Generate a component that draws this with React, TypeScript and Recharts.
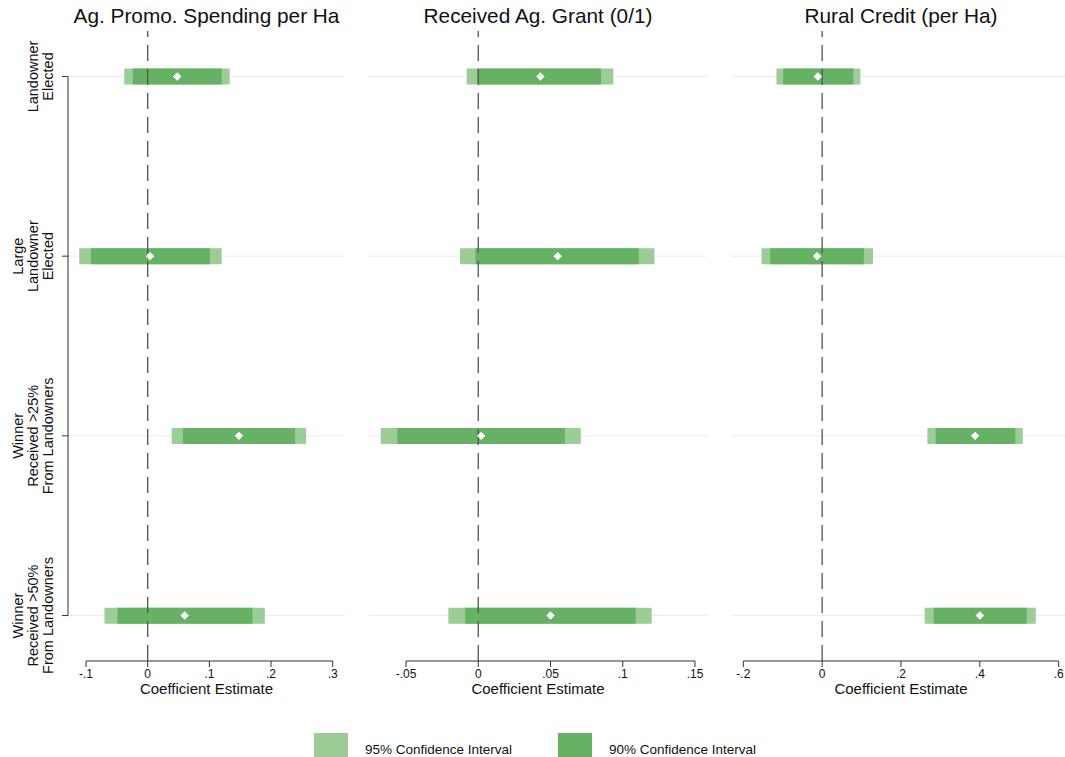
import React from "react";
import {
  ComposedChart,
  Bar,
  Line,
  XAxis,
  YAxis,
  CartesianGrid,
  ReferenceLine,
  Label,
} from "recharts";

// rows, top to bottom
const rowLabels = [
  ["Landowner", "Elected"],
  ["Large", "Landowner", "Elected"],
  ["Winner", "Received >25%", "From Landowners"],
  ["Winner", "Received >50%", "From Landowners"],
];
const rowPos = [1, 2, 3, 4];

// Ag. Promo. Spending per Ha
const promoEst = [0.048, 0.004, 0.148, 0.06];
const promoLo90 = [-0.024, -0.092, 0.057, -0.049];
const promoHi90 = [0.12, 0.101, 0.239, 0.17];
const promoLo95 = [-0.038, -0.111, 0.039, -0.07];
const promoHi95 = [0.133, 0.12, 0.257, 0.19];

// Received Ag. Grant (0/1)
const grantEst = [0.043, 0.055, 0.002, 0.05];
const grantLo90 = [-0.0005, -0.002, -0.056, -0.009];
const grantHi90 = [0.085, 0.111, 0.06, 0.109];
const grantLo95 = [-0.008, -0.0126, -0.0675, -0.0207];
const grantHi95 = [0.0935, 0.122, 0.071, 0.12];

// Rural Credit (per Ha)
const creditEst = [-0.011, -0.013, 0.388, 0.4];
const creditLo90 = [-0.099, -0.132, 0.288, 0.283];
const creditHi90 = [0.079, 0.106, 0.49, 0.519];
const creditLo95 = [-0.116, -0.154, 0.267, 0.26];
const creditHi95 = [0.097, 0.129, 0.509, 0.542];

const promoTicks = [-0.1, 0, 0.1, 0.2, 0.3];
const grantTicks = [-0.05, 0, 0.05, 0.1, 0.15];
const creditTicks = [-0.2, 0, 0.2, 0.4, 0.6];

const C95 = "#9ccd97";
const C90 = "#66b265";
const FONT = '"Liberation Sans", Arial, sans-serif';
const CHART_H = 720;
const Y_DOMAIN: [number, number] = [0.747, 4.253];

const fmt = (v: number) => (v === 0 ? "0" : String(v).replace("0.", "."));

const RowTick = (props: any) => {
  const { y, payload } = props;
  const lines = rowLabels[payload.value - 1] || [];
  return (
    <g transform={`translate(53, ${y})`}>
      <text transform="rotate(-90)" textAnchor="middle" fontSize={14.5} fill="#111" fontFamily={FONT}>
        {lines.map((l, i) => (
          <tspan key={i} x={0} y={-(lines.length - 1 - i) * 15}>
            {l}
          </tspan>
        ))}
      </text>
    </g>
  );
};

const Diamond = (props: any) => {
  const { cx, cy, index } = props;
  if (cx == null || cy == null) return <g key={index} />;
  const r = 4.2;
  return (
    <path
      key={index}
      d={`M${cx},${cy - r}L${cx + r},${cy}L${cx},${cy + r}L${cx - r},${cy}Z`}
      fill="#fff"
    />
  );
};

type PanelProps = {
  title: string;
  est: number[];
  lo90: number[];
  hi90: number[];
  lo95: number[];
  hi95: number[];
  domain: [number, number];
  ticks: number[];
  left: number;
  width: number;
  mLeft: number;
  mRight: number;
  showY?: boolean;
};

function Panel(p: PanelProps) {
  const data = rowPos.map((pos, i) => ({
    pos,
    est: p.est[i],
    ci95: [p.lo95[i], p.hi95[i]],
    ci90: [p.lo90[i], p.hi90[i]],
  }));
  const yAxisW = p.showY ? 68 : 0;
  const plotLeft = p.left + p.mLeft + yAxisW;
  const plotW = p.width - p.mLeft - p.mRight - yAxisW;
  const tLo = p.ticks[0];
  const tHi = p.ticks[p.ticks.length - 1];
  return (
    <>
      <div
        style={{
          position: "absolute",
          left: plotLeft,
          top: 4,
          width: plotW,
          textAlign: "center",
          fontSize: 20.8,
          fontFamily: FONT,
          color: "#111",
          whiteSpace: "nowrap",
        }}
      >
        {p.title}
      </div>
      <div style={{ position: "absolute", left: p.left, top: 0 }}>
        <ComposedChart
          layout="vertical"
          width={p.width}
          height={CHART_H}
          data={data}
          margin={{ top: 31, right: p.mRight, bottom: 0, left: p.mLeft }}
          barGap={-16}
          barSize={16}
          style={{ fontFamily: FONT }}
        >
          <CartesianGrid vertical={false} horizontalValues={rowPos} stroke="#ebebeb" />
          <XAxis
            type="number"
            domain={p.domain}
            ticks={p.ticks}
            interval={0}
            allowDataOverflow
            axisLine={false}
            tickLine={{ stroke: "#333" }}
            tickSize={6}
            tickMargin={2}
            tick={{ fill: "#111", fontSize: 12 }}
            tickFormatter={fmt}
            height={59}
          >
            <Label
              value="Coefficient Estimate"
              position="insideBottom"
              offset={26}
              style={{ fontSize: 15, fill: "#111" }}
            />
          </XAxis>
          <YAxis
            type="number"
            dataKey="pos"
            domain={Y_DOMAIN}
            ticks={rowPos}
            interval={0}
            allowDataOverflow
            hide={!p.showY}
            width={68}
            axisLine={false}
            tickSize={6}
            tickLine={{ stroke: "#333" }}
            tick={<RowTick />}
          />
          <Bar dataKey="ci95" fill={C95} isAnimationActive={false} />
          <Bar dataKey="ci90" fill={C90} isAnimationActive={false} />
          <ReferenceLine x={0} stroke="#555" strokeWidth={1.3} strokeDasharray="16 8" />
          <ReferenceLine
            segment={[
              { x: tLo, y: Y_DOMAIN[1] },
              { x: tHi, y: Y_DOMAIN[1] },
            ]}
            stroke="#333"
          />
          {p.showY && (
            <ReferenceLine
              segment={[
                { x: p.domain[0], y: rowPos[0] },
                { x: p.domain[0], y: rowPos[rowPos.length - 1] },
              ]}
              stroke="#333"
            />
          )}
          <Line
            dataKey="est"
            stroke="none"
            dot={(d: any) => <Diamond {...d} />}
            activeDot={false}
            isAnimationActive={false}
          />
        </ComposedChart>
      </div>
    </>
  );
}

const legendItems = [
  { label: "95% Confidence Interval", color: C95, x: 314 },
  { label: "90% Confidence Interval", color: C90, x: 558 },
];

export default function App() {
  return (
    <div
      style={{
        position: "absolute",
        left: 0,
        top: 0,
        width: 1065,
        height: 757,
        overflow: "hidden",
        background: "#fff",
        fontFamily: FONT,
      }}
    >
      <Panel
        title="Ag. Promo. Spending per Ha"
        est={promoEst}
        lo90={promoLo90}
        hi90={promoHi90}
        lo95={promoLo95}
        hi95={promoHi95}
        domain={[-0.1292, 0.32]}
        ticks={promoTicks}
        left={0}
        width={350}
        mLeft={0}
        mRight={5}
        showY
      />
      <Panel
        title="Received Ag. Grant (0/1)"
        est={grantEst}
        lo90={grantLo90}
        hi90={grantHi90}
        lo95={grantLo95}
        hi95={grantHi95}
        domain={[-0.0756, 0.1583]}
        ticks={grantTicks}
        left={360}
        width={350}
        mLeft={9}
        mRight={3}
      />
      <Panel
        title="Rural Credit (per Ha)"
        est={creditEst}
        lo90={creditLo90}
        hi90={creditHi90}
        lo95={creditLo95}
        hi95={creditHi95}
        domain={[-0.2313, 0.6313]}
        ticks={creditTicks}
        left={720}
        width={351}
        mLeft={11}
        mRight={0}
      />
      {legendItems.map((it) => (
        <React.Fragment key={it.label}>
          <div
            style={{
              position: "absolute",
              left: it.x,
              top: 733,
              width: 34,
              height: 34,
              background: it.color,
            }}
          />
          <div
            style={{
              position: "absolute",
              left: it.x + 51,
              top: 742,
              fontSize: 13.5,
              color: "#111",
              whiteSpace: "nowrap",
            }}
          >
            {it.label}
          </div>
        </React.Fragment>
      ))}
    </div>
  );
}
